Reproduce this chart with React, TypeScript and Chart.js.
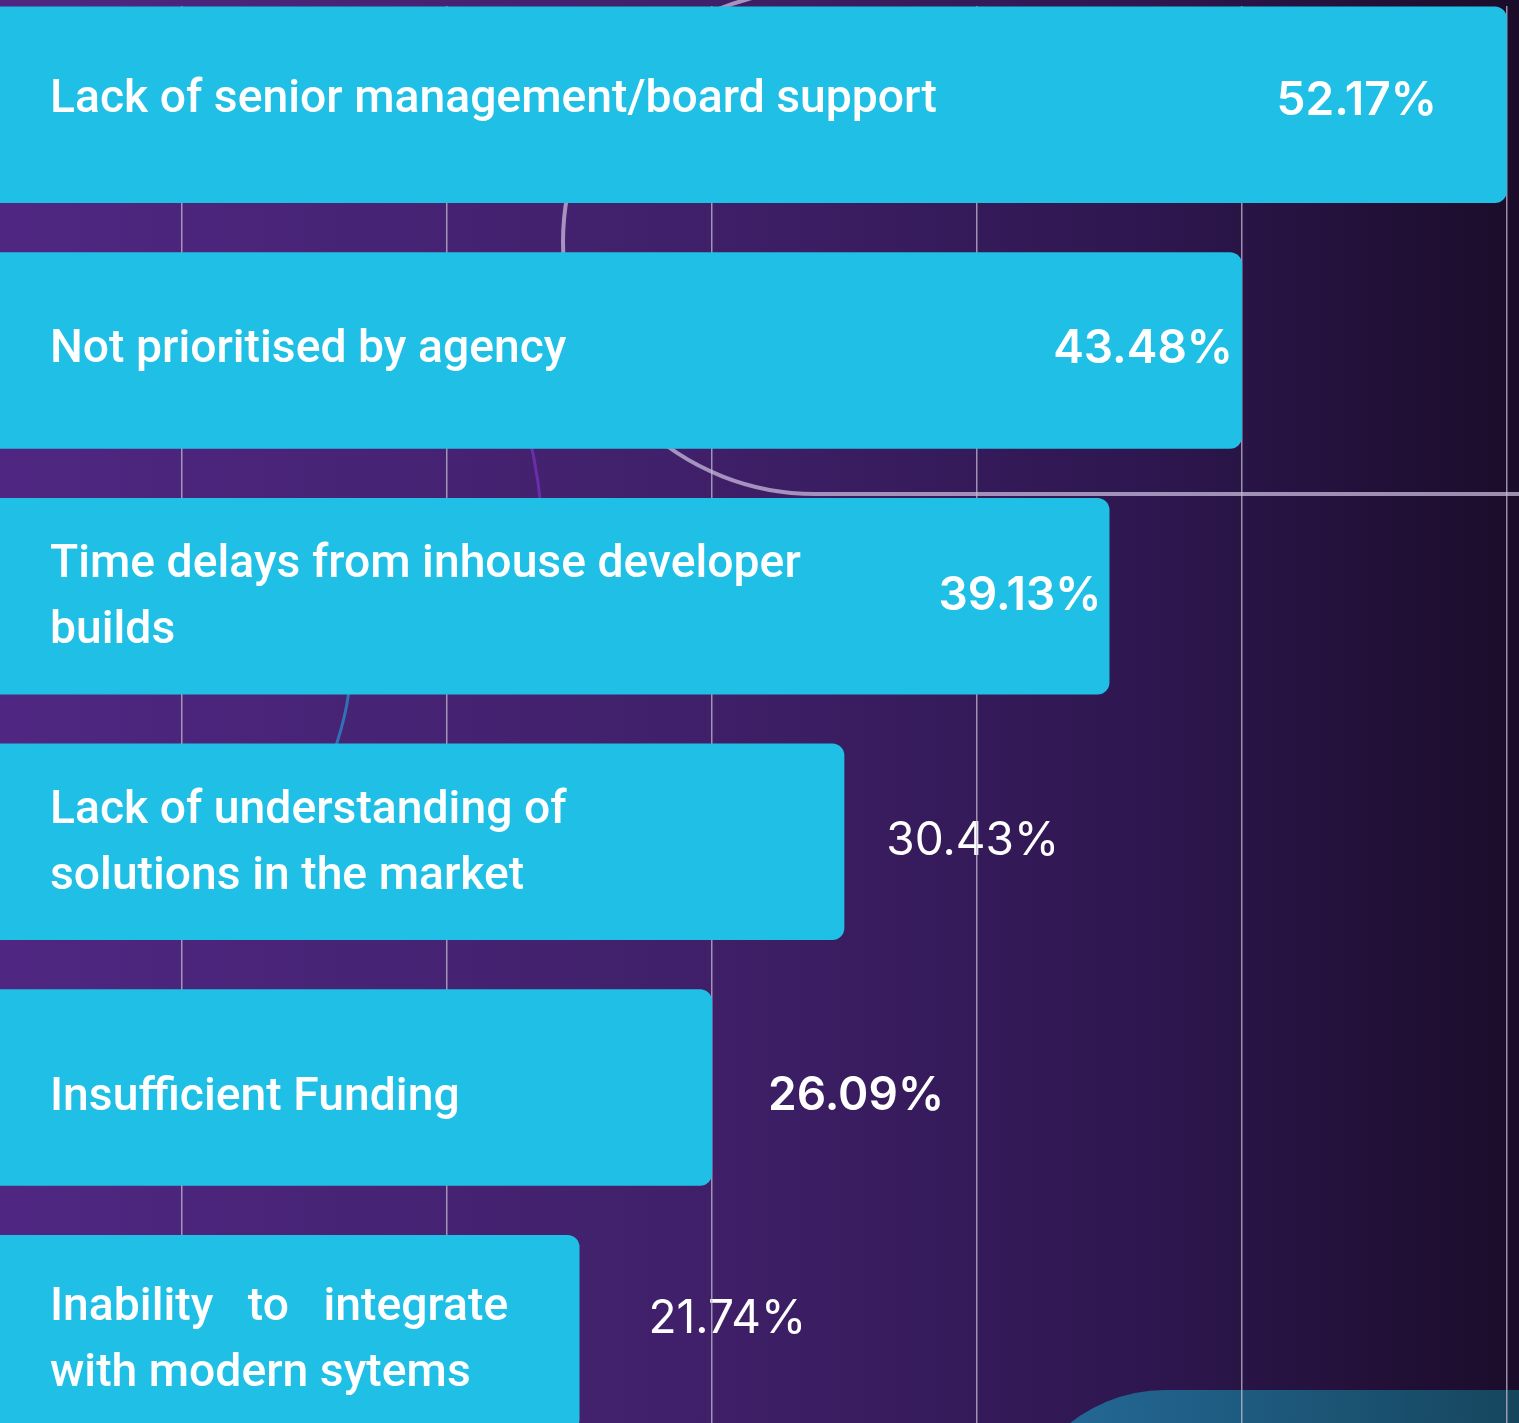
import React, { useEffect, useRef } from "react";
import { Chart, registerables } from "chart.js";

Chart.register(...registerables);

// ---------- data ----------
const categories: string[][] = [
  ["Lack of senior management/board support"],
  ["Not prioritised by agency"],
  ["Time delays from inhouse developer", "builds"],
  ["Lack of understanding of", "solutions in the market"],
  ["Insufficient Funding"],
  ["Inability   to   integrate", "with modern sytems"],
];
const values = [52.17, 43.48, 39.13, 30.43, 26.09, 21.74];
const valueLabels = ["52.17%", "43.48%", "39.13%", "30.43%", "26.09%", "21.74%"];
const gridTicks = [8.696, 17.391, 26.087, 34.783, 43.478, 52.174];

// ---------- styles / layout ----------
const W = 1519;
const H = 1474;
const TOP = 18; // canvas is shifted up by this many px
const X_MIN = 2.7236;
const X_MAX = 52.568;
const BAR_COLOR = "#20c0e6";

// label styling per bar (placement, not data)
const valueStyle = [
  { inside: true, offset: 70, weight: 600, dy: 10 },
  { inside: true, offset: 9, weight: 600, dy: 12 },
  { inside: true, offset: 8, weight: 600, dy: 14 },
  { inside: false, offset: 42, weight: 400, dy: 13 },
  { inside: false, offset: 56, weight: 600, dy: 22 },
  { inside: false, offset: 69, weight: 400, dy: 0 },
];
const catStyle = [{ dy: 7 }, { dy: 11 }, { dy: -19 }, { dy: -19 }, { dy: 22 }, { dy: -13 }];
const CAT_X = 50;
const CAT_LINE = 66;
const CAT_FONT = "500 46px Roboto";
const CAT_TARGET_W = 887;
const VAL_FONT_SIZE = 46;

function paintBackground(ctx: CanvasRenderingContext2D, w: number, h: number) {
  const g = ctx.createLinearGradient(0, 0, W, 0);
  g.addColorStop(0, "#4f2782");
  g.addColorStop(0.45, "#40206a");
  g.addColorStop(0.75, "#2e1750");
  g.addColorStop(1, "#1b0c2a");
  ctx.fillStyle = g;
  ctx.fillRect(0, 0, w, h);
}

function paintLightArc(ctx: CanvasRenderingContext2D) {
  ctx.strokeStyle = "rgba(200,185,220,0.75)";
  ctx.lineWidth = 4;
  ctx.beginPath();
  ctx.arc(815, 242 + TOP, 252, 1.5 * Math.PI, 0.5 * Math.PI, true);
  ctx.lineTo(W + 10, 494 + TOP);
  ctx.stroke();
}

const decorPlugin = {
  id: "decor",
  beforeDraw(chart: any) {
    const ctx: CanvasRenderingContext2D = chart.ctx;
    ctx.save();
    paintBackground(ctx, chart.width, chart.height);

    // teal rounded shape bottom right
    const tg = ctx.createLinearGradient(1012, 0, W, 0);
    tg.addColorStop(0, "#256c9c");
    tg.addColorStop(1, "#16465e");
    ctx.fillStyle = tg;
    ctx.beginPath();
    (ctx as any).roundRect(1012, 1390 + TOP, 800, 400, 153);
    ctx.fill();

    paintLightArc(ctx);

    // purple arc fragment
    ctx.strokeStyle = "#6a2ea8";
    ctx.lineWidth = 3;
    ctx.beginPath();
    ctx.arc(0, 560 + TOP, 543.6, -0.24, -0.05, false);
    ctx.stroke();

    // blue arc fragment
    ctx.strokeStyle = "#2f72b6";
    ctx.beginPath();
    ctx.arc(52, 649 + TOP, 300, 0.1, 0.45, false);
    ctx.stroke();
    ctx.restore();

    // outside value labels (drawn below grid)
    drawValueLabels(chart, false);
  },
  beforeDatasetsDraw(chart: any) {
    // grid starts at the top of the first bar: repaint the strip above it
    const ctx: CanvasRenderingContext2D = chart.ctx;
    const bar = chart.getDatasetMeta(0).data[0];
    const topY = Math.floor(bar.y - bar.height / 2);
    ctx.save();
    ctx.beginPath();
    ctx.rect(0, 0, chart.width, topY);
    ctx.clip();
    paintBackground(ctx, chart.width, topY);
    paintLightArc(ctx);
    ctx.restore();
  },
  afterDatasetsDraw(chart: any) {
    drawValueLabels(chart, true);
    const ctx: CanvasRenderingContext2D = chart.ctx;
    const meta = chart.getDatasetMeta(0);
    ctx.save();
    ctx.font = CAT_FONT;
    const sx = CAT_TARGET_W / ctx.measureText(categories[0][0]).width;
    ctx.fillStyle = "#ffffff";
    ctx.textBaseline = "alphabetic";
    ctx.textAlign = "left";
    categories.forEach((lines, i) => {
      const bar = meta.data[i];
      lines.forEach((line, j) => {
        const y = bar.y + catStyle[i].dy + j * CAT_LINE;
        ctx.save();
        ctx.translate(CAT_X, y);
        ctx.scale(sx, 1);
        ctx.fillText(line, 0, 0);
        ctx.restore();
      });
    });
    ctx.restore();
  },
};

function drawValueLabels(chart: any, inside: boolean) {
  const ctx: CanvasRenderingContext2D = chart.ctx;
  const meta = chart.getDatasetMeta(0);
  ctx.save();
  ctx.fillStyle = "#ffffff";
  ctx.textBaseline = "alphabetic";
  valueLabels.forEach((lab, i) => {
    const st = valueStyle[i];
    if (st.inside !== inside) return;
    const bar = meta.data[i];
    ctx.font = `${st.weight} ${VAL_FONT_SIZE}px Inter`;
    if (inside) {
      ctx.textAlign = "right";
      ctx.fillText(lab, bar.x - st.offset, bar.y + st.dy);
    } else {
      ctx.textAlign = "left";
      ctx.fillText(lab, bar.x + st.offset, bar.y + st.dy);
    }
  });
  ctx.restore();
}

export default function App() {
  const ref = useRef<HTMLCanvasElement | null>(null);
  useEffect(() => {
    if (!ref.current) return;
    const chart = new Chart(ref.current, {
      type: "bar",
      data: {
        labels: categories.map((c) => c.join(" ")),
        datasets: [
          {
            data: values,
            backgroundColor: BAR_COLOR,
            borderRadius: 12,
            borderSkipped: false,
            barPercentage: 0.8,
            categoryPercentage: 1,
          },
        ],
      },
      options: {
        indexAxis: "y",
        responsive: false,
        animation: false,
        layout: { padding: 0 },
        plugins: { legend: { display: false }, tooltip: { enabled: false } },
        scales: {
          x: {
            type: "linear",
            min: X_MIN,
            max: X_MAX,
            afterBuildTicks: (scale: any) => {
              scale.ticks = gridTicks.map((v) => ({ value: v }));
            },
            ticks: { display: false },
            grid: { color: "rgba(195,185,210,0.75)", lineWidth: 1.5, drawTicks: false },
            border: { display: false },
          },
          y: { display: false },
        },
      },
      plugins: [decorPlugin],
    });
    return () => chart.destroy();
  }, []);
  return (
    <div style={{ position: "fixed", left: 0, top: 0, width: W, height: 1423, overflow: "hidden", background: "#2e1750" }}>
      <div style={{ position: "absolute", left: 0, top: -TOP, width: W, height: H }}>
        <canvas ref={ref} width={W} height={H} style={{ display: "block", width: W, height: H }} />
      </div>
    </div>
  );
}
